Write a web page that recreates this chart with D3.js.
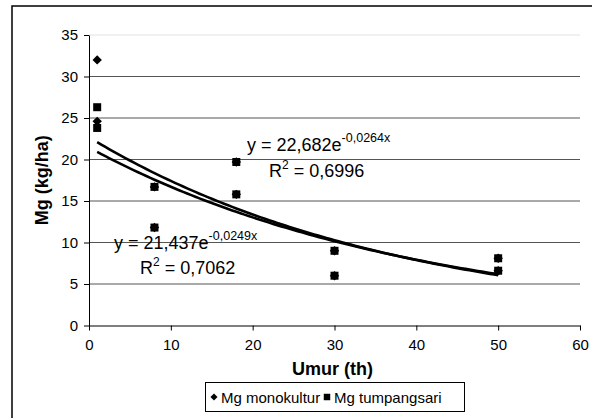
<!DOCTYPE html>
<html>
<head>
<meta charset="utf-8">
<script src="https://cdn.jsdelivr.net/npm/d3@7"></script>
<style>
  body { margin: 0; background: #fff; }
  svg { display: block; font-family: "Liberation Sans", Arial, sans-serif; }
</style>
</head>
<body>
<svg width="592" height="418"></svg>
<script>
// data
const umur = [1, 1, 8, 8, 18, 18, 30, 30, 50, 50];
const mgMonokultur = [32, 24.6, 16.7, 11.8, 19.7, 15.8, 9.0, 6.0, 8.1, 6.6];
const mgTumpangsari = [26.3, 23.8, 16.7, 11.8, 19.7, 15.8, 9.0, 6.0, 8.1, 6.6];
const seriesNames = ["Mg monokultur", "Mg tumpangsari"];
// exponential trend y = a * e^(b x), as printed on the chart
const trendA = [22.682, 21.437];
const trendB = [-0.0264, -0.0249];
const trendLabelA = ["22,682", "21,437"];
const trendLabelB = ["-0,0264x", "-0,0249x"];
const trendR2 = ["0,6996", "0,7062"];
const xTicks = [0, 10, 20, 30, 40, 50, 60];
const yTicks = [0, 5, 10, 15, 20, 25, 30, 35];

const svg = d3.select("svg");

// chart frame (only top and left edges are inside the picture)
svg.append("rect")
    .attr("x", 12).attr("y", 6)
    .attr("width", 700).attr("height", 500)
    .attr("fill", "none")
    .attr("stroke", "#000")
    .attr("stroke-width", 1.5);

const x = d3.scaleLinear().domain([0, 60]).range([89, 580]);
const y = d3.scaleLinear().domain([0, 35]).range([325.5, 35]);

// gridlines
svg.append("g")
    .selectAll("line")
    .data(yTicks.filter(d => d > 0))
    .enter().append("line")
    .attr("x1", x(0)).attr("x2", x(60))
    .attr("y1", d => y(d)).attr("y2", d => y(d))
    .attr("stroke", d => d === 35 ? "#e2e2e2" : "#555")
    .attr("stroke-width", 1);

// axes
const yAxis = svg.append("g")
    .attr("transform", `translate(${x(0)},0)`)
    .call(d3.axisLeft(y).tickValues(yTicks).tickSize(5).tickSizeOuter(0).tickPadding(6));
const xAxis = svg.append("g")
    .attr("transform", `translate(0,${y(0)})`)
    .call(d3.axisBottom(x).tickValues(xTicks).tickSize(5).tickSizeOuter(0).tickPadding(9));

[xAxis, yAxis].forEach(a => {
    a.selectAll("path, line").attr("stroke", "#000");
    a.selectAll("text")
        .attr("fill", "#000")
        .style("font-family", "'Liberation Sans', Arial, sans-serif")
        .style("font-size", "15px");
});

// axis titles
svg.append("text")
    .attr("transform", `translate(48,${(y(0) + y(35)) / 2}) rotate(-90)`)
    .attr("text-anchor", "middle")
    .style("font-size", "18px")
    .style("font-weight", "bold")
    .text("Mg (kg/ha)");

svg.append("text")
    .attr("x", (x(0) + x(60)) / 2 - 2)
    .attr("y", 375)
    .attr("text-anchor", "middle")
    .style("font-size", "18px")
    .style("font-weight", "bold")
    .text("Umur (th)");

// trend lines
const line = d3.line().x(d => x(d[0])).y(d => y(d[1]));
[0, 1].forEach(i => {
    const pts = d3.range(1, 50.01, 0.5).map(t => [t, trendA[i] * Math.exp(trendB[i] * t)]);
    svg.append("path")
        .attr("d", line(pts))
        .attr("fill", "none")
        .attr("stroke", "#000")
        .attr("stroke-width", 2.6);
});

// markers
const diamond = d3.symbol().type(d3.symbolDiamond2).size(56);
const square = d3.symbol().type(d3.symbolSquare).size(64);

svg.append("g").selectAll("path")
    .data(umur.map((u, i) => [u, mgMonokultur[i]]))
    .enter().append("path")
    .attr("d", diamond)
    .attr("transform", d => `translate(${x(d[0])},${y(d[1])})`)
    .attr("fill", "#000");

svg.append("g").selectAll("path")
    .data(umur.map((u, i) => [u, mgTumpangsari[i]]))
    .enter().append("path")
    .attr("d", square)
    .attr("transform", d => `translate(${x(d[0])},${y(d[1])})`)
    .attr("fill", "#000");

// trend equations
function equation(i, ex, ey, rx, ry) {
    const t = svg.append("text").attr("x", ex).attr("y", ey).style("font-size", "18px");
    t.append("tspan").text(`y = ${trendLabelA[i]}e`);
    t.append("tspan").attr("dy", -9).style("font-size", "12.5px").text(trendLabelB[i]);
    const r = svg.append("text").attr("x", rx).attr("y", ry).style("font-size", "18px");
    r.append("tspan").text("R");
    r.append("tspan").attr("dy", -8).style("font-size", "12px").text("2");
    r.append("tspan").attr("dy", 8).text(` = ${trendR2[i]}`);
}
equation(0, 247, 151, 269, 177);
equation(1, 114, 249, 140, 274);

// legend
const legend = svg.append("g");
legend.append("rect")
    .attr("x", 205.5).attr("y", 382.5)
    .attr("width", 259).attr("height", 29)
    .attr("fill", "#fff")
    .attr("stroke", "#000")
    .attr("stroke-width", 1);

const legendItems = [
    { name: seriesNames[0], sym: d3.symbol().type(d3.symbolDiamond2).size(32), mx: 214, tx: 221 },
    { name: seriesNames[1], sym: d3.symbol().type(d3.symbolSquare).size(42), mx: 327, tx: 334 }
];
legendItems.forEach(d => {
    legend.append("path")
        .attr("d", d.sym)
        .attr("transform", `translate(${d.mx},397)`)
        .attr("fill", "#000");
    legend.append("text")
        .attr("x", d.tx).attr("y", 402.5)
        .style("font-size", "15px")
        .text(d.name);
});
</script>
</body>
</html>
